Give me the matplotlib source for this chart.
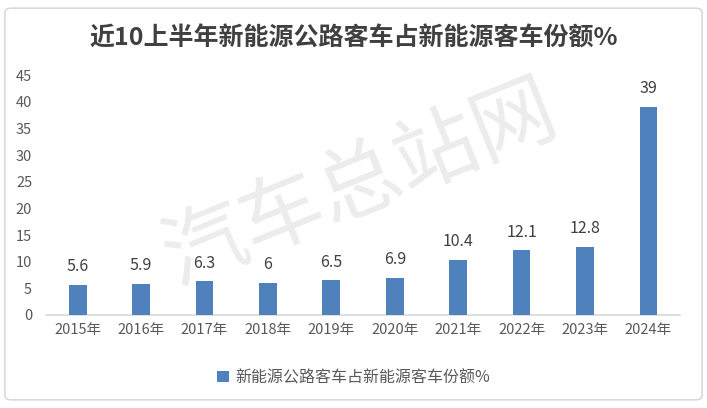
#!/usr/bin/env python3
"""Share of highway buses among new-energy buses, H1 of the last 10 years."""

import matplotlib
matplotlib.use("Agg")
import matplotlib.pyplot as plt
from matplotlib.patches import FancyBboxPatch

###############################################################################
# Data
###############################################################################

years = ["2015年", "2016年", "2017年", "2018年", "2019年",
         "2020年", "2021年", "2022年", "2023年", "2024年"]
share = [5.6, 5.9, 6.3, 6, 6.5, 6.9, 10.4, 12.1, 12.8, 39]
value_labels = ["5.6", "5.9", "6.3", "6", "6.5", "6.9", "10.4", "12.1", "12.8", "39"]
y_ticks = [0, 5, 10, 15, 20, 25, 30, 35, 40, 45]

title = "近10上半年新能源公路客车占新能源客车份额%"
series_name = "新能源公路客车占新能源客车份额%"
watermark = "汽车总站网"

###############################################################################
# Plot
###############################################################################

plt.rcParams["font.family"] = ["Noto Sans CJK SC", "DejaVu Sans"]

BAR = "#4f81bd"
TXT = "#595959"

fig = plt.figure(figsize=(7.07, 4.08), dpi=100)
fig.patches.append(FancyBboxPatch(
    (0.007, 0.02), 0.986, 0.96, boxstyle="round,pad=0,rounding_size=0.01",
    transform=fig.transFigure, fill=False, edgecolor="#d9d9d9", linewidth=1.2))

ax = fig.add_axes([0.065, 0.228, 0.897, 0.588])
x = list(range(len(years)))
bars = ax.bar(x, share, width=0.28, color=BAR, zorder=3, label=series_name)

for xi, v, lab in zip(x, share, value_labels):
    ax.annotate(lab, (xi, v), xytext=(0, 7), textcoords="offset points",
                ha="center", va="bottom", fontsize=11.5, color="#404040", zorder=4)

ax.set_xlim(-0.5, len(years) - 0.5)
ax.set_ylim(0, 45)
ax.set_yticks(y_ticks)
ax.set_xticks(x)
ax.set_xticklabels(years)
ax.tick_params(axis="both", length=0, labelsize=10.5, labelcolor=TXT)
ax.tick_params(axis="x", pad=6)
ax.tick_params(axis="y", pad=10)
for side in ("top", "right", "left"):
    ax.spines[side].set_visible(False)
ax.spines["bottom"].set_color("#d9d9d9")
ax.spines["bottom"].set_linewidth(1.2)

fig.text(0.5, 0.905, title, ha="center", va="center", fontsize=18,
         fontweight="bold", color="#404040")

fig.text(0.51, 0.55, watermark, ha="center", va="center", fontsize=60,
         color="#ececec", rotation=22, zorder=0)

fig.legend(handles=[bars], labels=[series_name], loc="center",
           bbox_to_anchor=(0.5, 0.074), frameon=False, fontsize=11.5,
           labelcolor=TXT, handlelength=0.7, handleheight=0.7, handletextpad=0.4)

fig.savefig("out.png", dpi=100)
